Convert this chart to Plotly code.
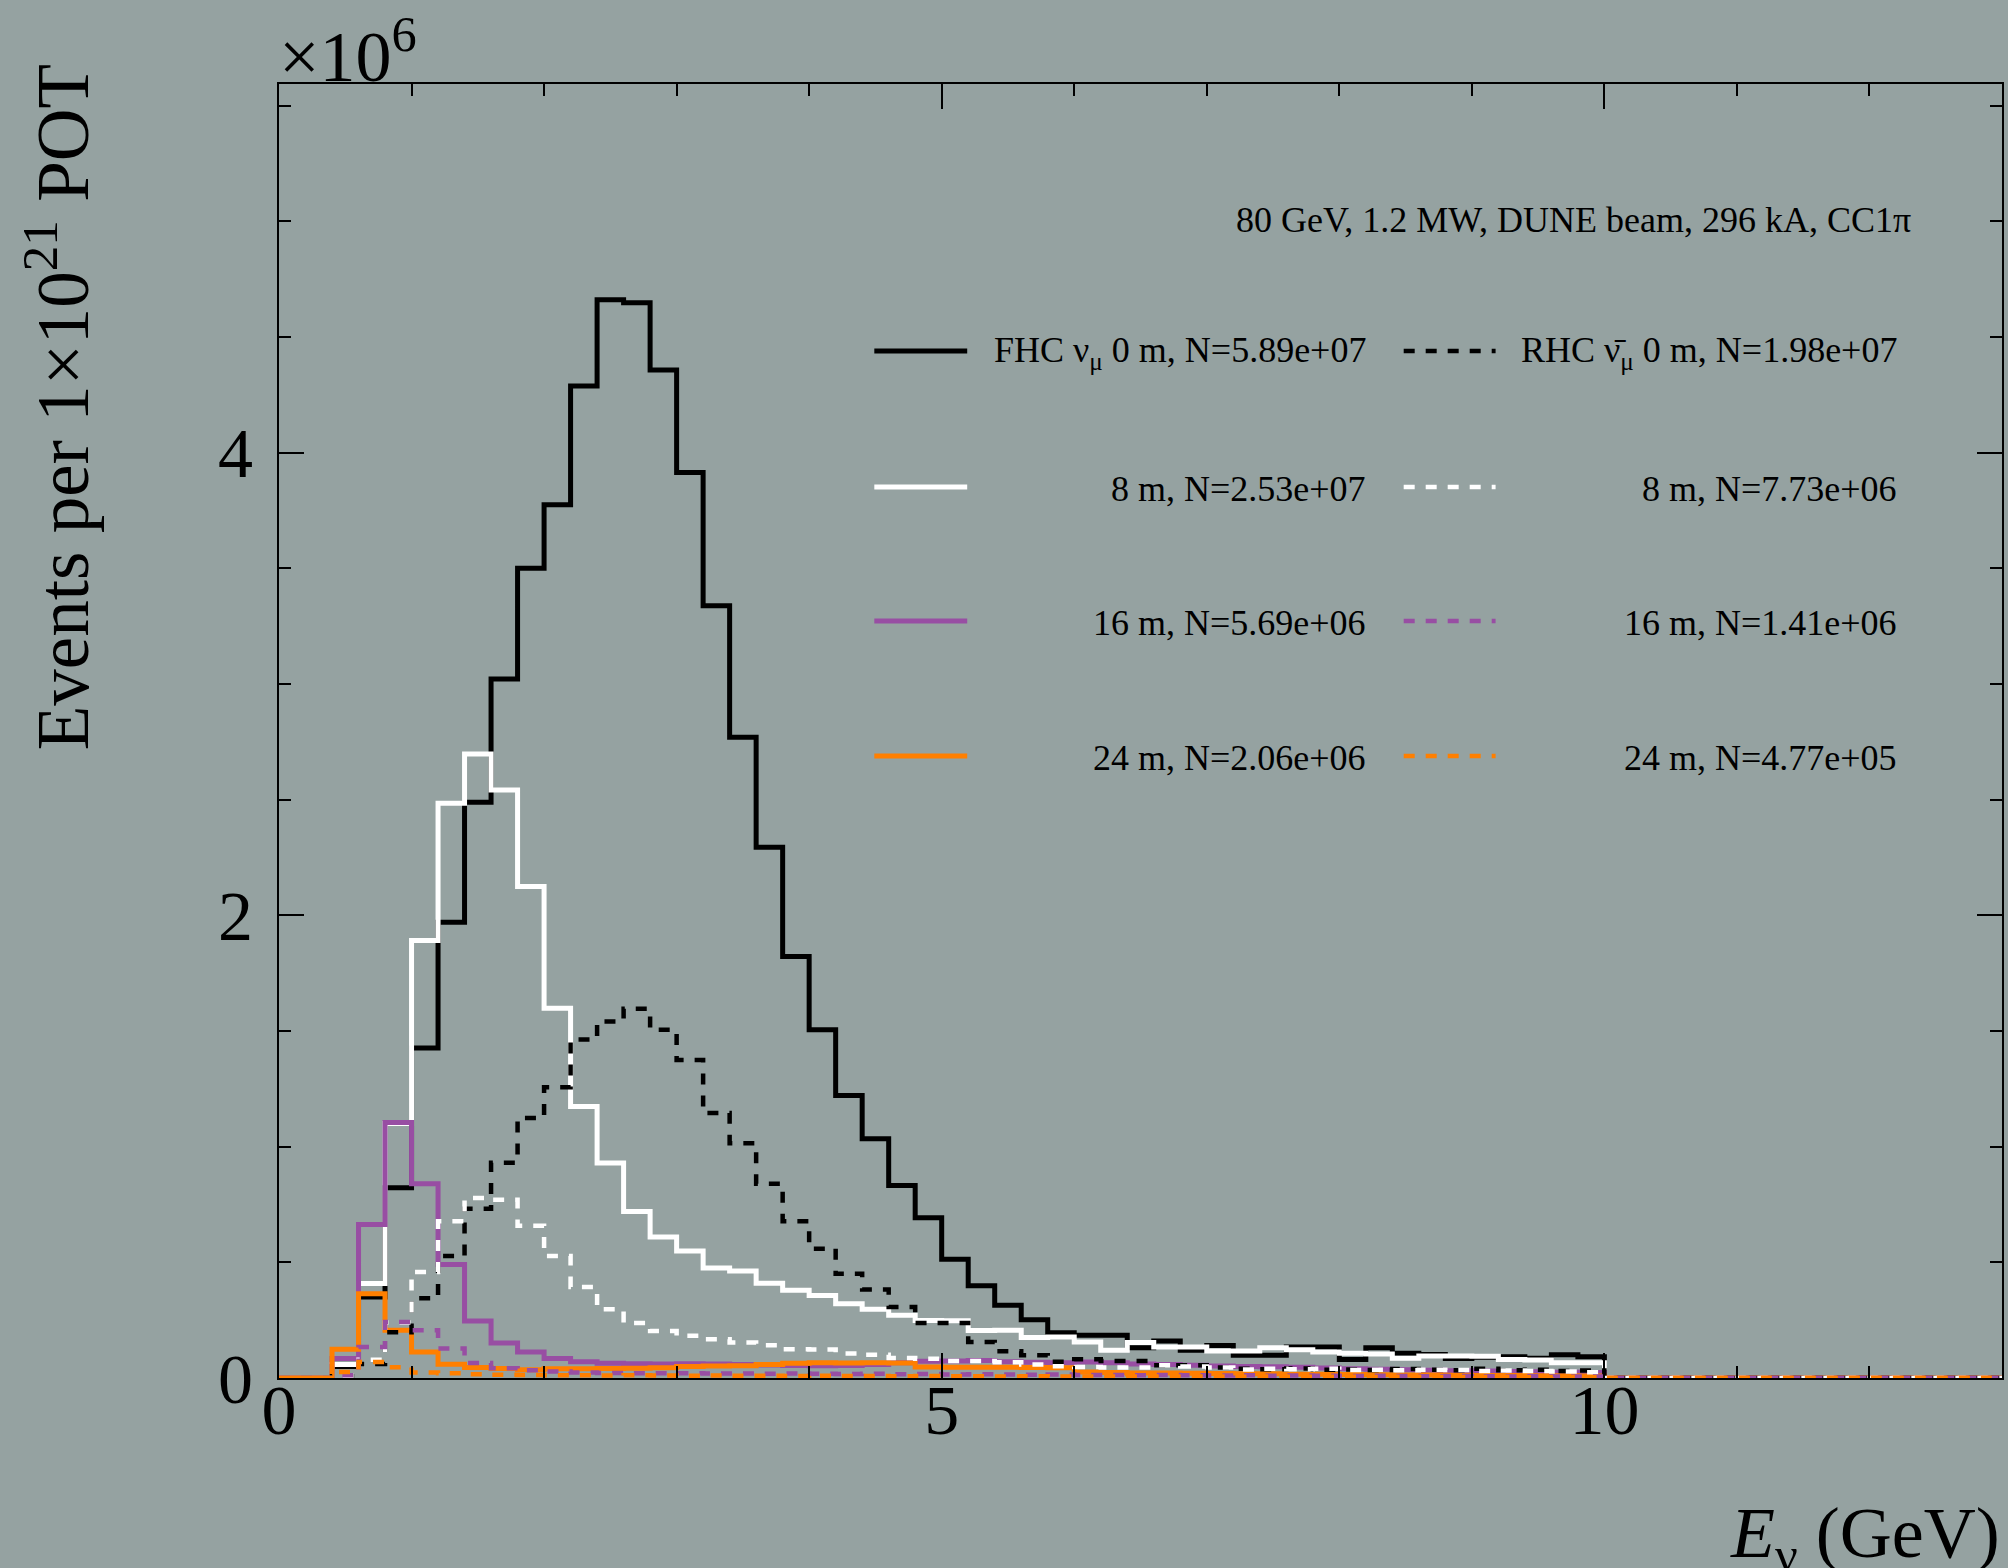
import numpy as np
import plotly.graph_objects as go

# ---------------- data (events per 0.2 GeV bin, in units of 1e6) ----------------
BIN_WIDTH = 0.2
E_MAX = 13.0

fhc_0m = [0.0, 0.0, 0.05, 0.35, 0.822, 1.426, 1.970, 2.488, 3.021, 3.500,
          3.774, 4.288, 4.661, 4.648, 4.357, 3.914, 3.338, 2.769, 2.294, 1.822,
          1.505, 1.221, 1.034, 0.832, 0.693, 0.513, 0.399, 0.314, 0.252, 0.196,
          0.185, 0.185, 0.131, 0.160, 0.120, 0.141, 0.098, 0.098, 0.134, 0.134,
          0.080, 0.131, 0.107, 0.102, 0.084, 0.090, 0.092, 0.085, 0.100, 0.092,
          0.0, 0.0, 0.0, 0.0, 0.0, 0.0, 0.0, 0.0, 0.0, 0.0, 0.0, 0.0, 0.0, 0.0, 0.0]
fhc_8m = [0.0, 0.0, 0.058, 0.408, 1.100, 1.891, 2.484, 2.697, 2.542, 2.124,
          1.598, 1.174, 0.929, 0.720, 0.609, 0.549, 0.475, 0.462, 0.410, 0.379,
          0.357, 0.321, 0.297, 0.271, 0.249, 0.247, 0.205, 0.206, 0.175, 0.177,
          0.156, 0.120, 0.153, 0.134, 0.134, 0.117, 0.117, 0.131, 0.122, 0.112,
          0.107, 0.104, 0.085, 0.095, 0.095, 0.094, 0.080, 0.078, 0.066, 0.066,
          0.0, 0.0, 0.0, 0.0, 0.0, 0.0, 0.0, 0.0, 0.0, 0.0, 0.0, 0.0, 0.0, 0.0, 0.0]
fhc_16m = [0.0, 0.0, 0.084, 0.663, 1.104, 0.840, 0.491, 0.246, 0.151, 0.112,
           0.084, 0.070, 0.064, 0.062, 0.060, 0.062, 0.061, 0.058, 0.056, 0.054,
           0.053, 0.054, 0.058, 0.066, 0.072, 0.074, 0.076, 0.070, 0.068, 0.066,
           0.069, 0.066, 0.060, 0.058, 0.055, 0.052, 0.050, 0.049, 0.046, 0.043,
           0.040, 0.038, 0.036, 0.033, 0.031, 0.030, 0.028, 0.027, 0.025, 0.024,
           0.0, 0.0, 0.0, 0.0, 0.0, 0.0, 0.0, 0.0, 0.0, 0.0, 0.0, 0.0, 0.0, 0.0, 0.0]
fhc_24m = [0.0, 0.0, 0.124, 0.364, 0.206, 0.112, 0.059, 0.045, 0.041, 0.036,
           0.040, 0.040, 0.041, 0.042, 0.044, 0.050, 0.052, 0.053, 0.058, 0.064,
           0.066, 0.065, 0.066, 0.065, 0.048, 0.047, 0.046, 0.047, 0.045, 0.044,
           0.026, 0.024, 0.022, 0.022, 0.020, 0.019, 0.018, 0.018, 0.016, 0.016,
           0.015, 0.014, 0.013, 0.013, 0.012, 0.011, 0.011, 0.010, 0.010, 0.009,
           0.0, 0.0, 0.0, 0.0, 0.0, 0.0, 0.0, 0.0, 0.0, 0.0, 0.0, 0.0, 0.0, 0.0, 0.0]

rhc_0m = [0.0, 0.0, 0.008, 0.060, 0.198, 0.345, 0.527, 0.732, 0.930, 1.124,
          1.257, 1.463, 1.541, 1.596, 1.505, 1.375, 1.145, 1.015, 0.840, 0.678,
          0.559, 0.451, 0.382, 0.307, 0.238, 0.238, 0.156, 0.116, 0.098, 0.070,
          0.081, 0.074, 0.074, 0.055, 0.055, 0.045, 0.040, 0.038, 0.041, 0.036,
          0.037, 0.035, 0.039, 0.036, 0.034, 0.040, 0.033, 0.036, 0.030, 0.032,
          0.0, 0.0, 0.0, 0.0, 0.0, 0.0, 0.0, 0.0, 0.0, 0.0, 0.0, 0.0, 0.0, 0.0, 0.0]
rhc_8m = [0.0, 0.0, 0.010, 0.079, 0.240, 0.458, 0.677, 0.778, 0.770, 0.658,
          0.527, 0.393, 0.297, 0.238, 0.203, 0.183, 0.168, 0.153, 0.142, 0.124,
          0.123, 0.106, 0.100, 0.086, 0.083, 0.074, 0.074, 0.068, 0.058, 0.051,
          0.048, 0.045, 0.045, 0.055, 0.050, 0.045, 0.037, 0.040, 0.038, 0.040,
          0.035, 0.036, 0.033, 0.036, 0.035, 0.030, 0.032, 0.030, 0.028, 0.025,
          0.0, 0.0, 0.0, 0.0, 0.0, 0.0, 0.0, 0.0, 0.0, 0.0, 0.0, 0.0, 0.0, 0.0, 0.0]
rhc_16m = [0.0, 0.0, 0.012, 0.134, 0.242, 0.206, 0.127, 0.065, 0.042, 0.034,
           0.028, 0.024, 0.022, 0.021, 0.020, 0.021, 0.019, 0.019, 0.018, 0.019,
           0.018, 0.017, 0.018, 0.016, 0.017, 0.015, 0.016, 0.015, 0.014, 0.015,
           0.013, 0.013, 0.012, 0.013, 0.012, 0.011, 0.012, 0.010, 0.011, 0.010,
           0.009, 0.010, 0.009, 0.008, 0.009, 0.008, 0.007, 0.008, 0.007, 0.006,
           0.0, 0.0, 0.0, 0.0, 0.0, 0.0, 0.0, 0.0, 0.0, 0.0, 0.0, 0.0, 0.0, 0.0, 0.0]
rhc_24m = [0.0, 0.0, 0.026, 0.069, 0.046, 0.024, 0.020, 0.016, 0.014, 0.013,
           0.012, 0.012, 0.011, 0.012, 0.011, 0.010, 0.011, 0.010, 0.010, 0.009,
           0.010, 0.009, 0.009, 0.008, 0.009, 0.008, 0.008, 0.007, 0.008, 0.007,
           0.007, 0.006, 0.007, 0.006, 0.006, 0.006, 0.005, 0.006, 0.005, 0.005,
           0.005, 0.004, 0.005, 0.004, 0.004, 0.004, 0.004, 0.003, 0.004, 0.003,
           0.0, 0.0, 0.0, 0.0, 0.0, 0.0, 0.0, 0.0, 0.0, 0.0, 0.0, 0.0, 0.0, 0.0, 0.0]

fhc_labels = ["FHC ν<sub>μ</sub> 0 m, N=5.89e+07", "8 m, N=2.53e+07",
              "16 m, N=5.69e+06", "24 m, N=2.06e+06"]
rhc_labels = ["RHC ν\u0304<sub>μ</sub> 0 m, N=1.98e+07", "8 m, N=7.73e+06",
              "16 m, N=1.41e+06", "24 m, N=4.77e+05"]
header_text = "80 GeV, 1.2 MW, DUNE beam, 296 kA, CC1π"

x_ticks = [0, 5, 10]
y_ticks = [0, 2, 4]

# ---------------- style ----------------
COLORS = ["#000000", "#ffffff", "#984ea3", "#ff7f00"]
BG = "#95a2a1"
FONT = "Liberation Serif"
W, H = 2008, 1568
L, R, T, B = 279, 4, 84, 190
DASH = "11px,11px"

edges = np.round(np.arange(0.0, E_MAX + BIN_WIDTH / 2, BIN_WIDTH), 6)


def step_y(vals):
    return list(vals) + [vals[-1]]


fig = go.Figure()
fhc_series = [fhc_0m, fhc_8m, fhc_16m, fhc_24m]
rhc_series = [rhc_0m, rhc_8m, rhc_16m, rhc_24m]
for vals, col in zip(fhc_series, COLORS):
    fig.add_trace(go.Scatter(x=edges, y=step_y(vals), mode="lines",
                             line=dict(color=col, width=5, shape="hv"),
                             showlegend=False, hoverinfo="skip"))
for vals, col in zip(rhc_series, COLORS):
    fig.add_trace(go.Scatter(x=edges, y=step_y(vals), mode="lines",
                             line=dict(color=col, width=4.5, shape="hv", dash=DASH),
                             showlegend=False, hoverinfo="skip"))

PW, PH = W - L - R, H - T - B


def px_x(x):
    return (x - L) / PW


def px_y(y):
    return (H - B - y) / PH


shapes = []
annotations = []
row_y = [351, 487, 621, 756]
for i, y in enumerate(row_y):
    shapes.append(dict(type="line", xref="paper", yref="paper",
                       x0=px_x(875), x1=px_x(968), y0=px_y(y), y1=px_y(y),
                       line=dict(color=COLORS[i], width=5)))
    shapes.append(dict(type="line", xref="paper", yref="paper",
                       x0=px_x(1405), x1=px_x(1497), y0=px_y(y), y1=px_y(y),
                       line=dict(color=COLORS[i], width=4.5, dash=DASH)))
    annotations.append(dict(xref="paper", yref="paper", x=px_x(1369), y=px_y(y + 2),
                            xanchor="right", yanchor="middle", text=fhc_labels[i],
                            showarrow=False, font=dict(family=FONT, size=36, color="black")))
    annotations.append(dict(xref="paper", yref="paper", x=px_x(1901), y=px_y(y + 2),
                            xanchor="right", yanchor="middle", text=rhc_labels[i],
                            showarrow=False, font=dict(family=FONT, size=36, color="black")))

annotations.append(dict(xref="paper", yref="paper", x=px_x(1915), y=px_y(220),
                        xanchor="right", yanchor="middle", text=header_text,
                        showarrow=False, font=dict(family=FONT, size=36, color="black")))

# axis titles and exponent
annotations.append(dict(xref="paper", yref="paper", x=px_x(57), y=px_y(62),
                        xanchor="center", yanchor="top", textangle=-90,
                        text="Events per 1×10<sup>21</sup> POT", showarrow=False,
                        font=dict(family=FONT, size=73, color="black")))
annotations.append(dict(xref="paper", yref="paper", x=1.0, y=px_y(1538),
                        xanchor="right", yanchor="middle",
                        text="<i>E</i><sub>ν</sub> (GeV)", showarrow=False,
                        font=dict(family=FONT, size=72, color="black")))
annotations.append(dict(xref="paper", yref="paper", x=px_x(277), y=px_y(99),
                        xanchor="left", yanchor="bottom",
                        text="×10<sup>6</sup>", showarrow=False,
                        font=dict(family=FONT, size=72, color="black")))

axis_common = dict(showline=True, linecolor="black", linewidth=2, mirror="allticks",
                   ticks="inside", ticklen=25, tickwidth=2, tickcolor="black",
                   showgrid=False, zeroline=False,
                   tickfont=dict(family=FONT, size=70, color="black"))

fig.update_layout(
    width=W, height=H,
    margin=dict(l=L, r=R, t=T, b=B, pad=0),
    paper_bgcolor=BG, plot_bgcolor=BG,
    xaxis=dict(range=[0, E_MAX], tickvals=x_ticks, ticktext=[str(v) for v in x_ticks],
               minor=dict(dtick=1, tick0=0, ticklen=12, tickwidth=2, tickcolor="black",
                          ticks="inside"),
               ticklabelstandoff=-30, **axis_common),
    yaxis=dict(range=[0, 5.593], tickvals=y_ticks, ticktext=[str(v) for v in y_ticks],
               minor=dict(dtick=0.5, tick0=0, ticklen=12, tickwidth=2, tickcolor="black",
                          ticks="inside"),
               ticklabelstandoff=10, **axis_common),
    shapes=shapes, annotations=annotations,
    showlegend=False,
)

fig.write_html("out.html",
               config={"displayModeBar": False},
               post_script="document.body.style.margin='0';"
                           "document.body.style.background='" + BG + "';")
